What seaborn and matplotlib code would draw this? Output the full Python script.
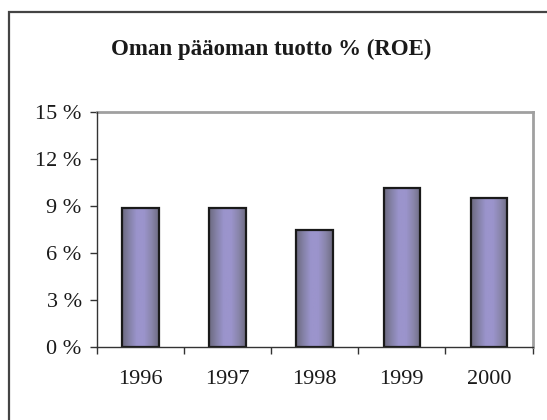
import numpy as np
import pandas as pd
import seaborn as sns
import matplotlib.pyplot as plt
from matplotlib.colors import LinearSegmentedColormap
from matplotlib.patches import Rectangle
from matplotlib.ticker import FuncFormatter, FixedLocator

years = ["1996", "1997", "1998", "1999", "2000"]
roe = [8.87, 8.85, 7.45, 10.13, 9.49]
yticks = [0, 3, 6, 9, 12, 15]

df = pd.DataFrame({"year": years, "roe": roe})

sns.set_theme(style="white")
plt.rcParams['font.family'] = ['Liberation Serif', 'DejaVu Serif']

fig = plt.figure(figsize=(5.47, 4.2), dpi=100)
ax = fig.add_axes([97/547, 1 - 346.5/420, (532.5-97)/547, (346.5-112)/420])

sns.barplot(data=df, x="year", y="roe", ax=ax, width=0.42,
            color="#9a94c8", edgecolor="#1a1a1a", linewidth=1.6, saturation=1)

# cylinder-like shading inside each bar
shade = LinearSegmentedColormap.from_list(
    "shade", ["#6c6a80", "#8582a8", "#9b94cc", "#9b94cc", "#8a86ac", "#6f6d84"])
grad = np.linspace(0, 1, 64).reshape(1, -1)
for p in ax.patches:
    x0, w = p.get_x(), p.get_width()
    h = p.get_height()
    im = ax.imshow(grad, cmap=shade, aspect="auto",
                   extent=[x0, x0 + w, 0, h], zorder=p.get_zorder() - 0.1)
    im.set_clip_path(p)
    p.set_facecolor("none")

ax.set_xlim(-0.5, 4.5)
ax.set_ylim(0, 15)
ax.set_yticks(yticks)
ax.yaxis.set_major_formatter(FuncFormatter(lambda v, _: f"{int(v)} %"))
ax.set_xlabel("")
ax.set_ylabel("")

ax.xaxis.set_minor_locator(FixedLocator(np.arange(-0.5, 5.0, 1.0)))
ax.tick_params(axis="x", which="major", length=0, pad=17, labelsize=16, colors="#1a1a1a")
ax.tick_params(axis="x", which="minor", bottom=True, length=5, width=1, color="#333333")
ax.tick_params(axis="y", left=True, length=5, width=1, color="#333333",
               pad=6, labelsize=16, labelcolor="#1a1a1a")

for s in ["left", "bottom"]:
    ax.spines[s].set_color("#333333")
    ax.spines[s].set_linewidth(1.0)
for s in ["top", "right"]:
    ax.spines[s].set_color("#a0a0a0")
    ax.spines[s].set_linewidth(2.0)
ax.spines["left"].set_zorder(5)
ax.spines["bottom"].set_zorder(5)

fig.text(271/547, 1 - 49/420, "Oman pääoman tuotto % (ROE)", ha="center", va="center",
         fontsize=16.5, fontweight="bold", color="#1a1a1a")

# outer chart frame
fig.patches.append(Rectangle((8.5/547, -0.1), 1.2, 1.1 - 12.5/420, transform=fig.transFigure,
                             fill=False, edgecolor="#444444", linewidth=1.6))

fig.savefig("out.png", dpi=100)
